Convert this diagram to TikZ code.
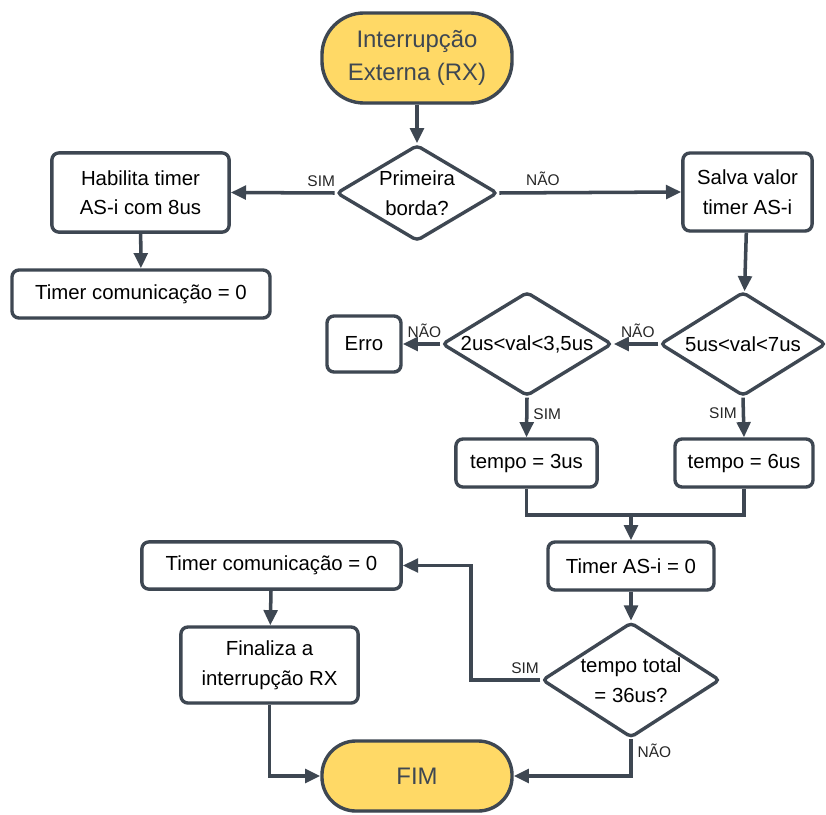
\documentclass[tikz,border=0pt]{standalone}
\usepackage{fontspec}
\setmainfont{Liberation Sans}
\usetikzlibrary{shapes.geometric,arrows.meta,shadows}
\definecolor{linha}{HTML}{3E4752}
\definecolor{amarelo}{HTML}{FFD966}
\tikzset{
  sombra/.style={drop shadow={shadow xshift=0.6pt,shadow yshift=-1.2pt,opacity=0.12,fill=black}},
  caixa/.style={draw=linha,line width=2.4pt,rounded corners=5pt,fill=white,sombra,
    align=center,inner sep=0pt,font=\fontsize{14.5}{21}\selectfont},
  decisao/.style={diamond,draw=linha,line width=2.4pt,rounded corners=3pt,fill=white,sombra,
    align=center,inner sep=0pt,font=\fontsize{14.5}{21}\selectfont},
  terminal/.style={draw=linha,line width=2.4pt,fill=amarelo,sombra,text=linha,
    align=center,inner sep=0pt,font=\fontsize{17}{23}\selectfont},
  rotulo/.style={font=\fontsize{11}{13}\selectfont,text=black!85,inner sep=3.5pt},
  seta/.style={draw=linha,line width=2.5pt,-{Triangle[length=0.38cm,width=0.34cm]}},
  liga/.style={draw=linha,line width=2.5pt}
}
\begin{document}
\begin{tikzpicture}[x=0.025cm,y=-0.025cm]
    \useasboundingbox (0,0) rectangle (826,814);

    \node[terminal,minimum width=4.75cm,minimum height=2.25cm,rounded corners=1.05cm] (inicio) at (417,58) {Interrupção\\Externa (RX)};
    \node[decisao,minimum width=4.03cm,minimum height=2.4cm,aspect=1.68] (borda) at (417,193) {Primeira\\borda?};
    \node[caixa,minimum width=4.43cm,minimum height=1.98cm] (habilita) at (140.5,192.5) {Habilita timer\\AS-i com 8us};
    \node[caixa,minimum width=6.45cm,minimum height=1.2cm] (comA) at (141,294) {Timer comunicação = 0};
    \node[caixa,minimum width=3.23cm,minimum height=1.95cm] (salva) at (747.5,192) {Salva valor\\timer AS-i};

    \node[decisao,minimum width=4.15cm,minimum height=2.6cm,aspect=1.6] (val5) at (743,344) {5us<val<7us};
    \node[decisao,minimum width=4.25cm,minimum height=2.6cm,aspect=1.63] (val2) at (527,344) {2us<val<3,5us};
    \node[caixa,minimum width=1.85cm,minimum height=1.4cm] (erro) at (364,344) {Erro};
    \node[caixa,minimum width=3.53cm,minimum height=1.2cm] (tempo3) at (526.5,463) {tempo = 3us};
    \node[caixa,minimum width=3.45cm,minimum height=1.2cm] (tempo6) at (744,463) {tempo = 6us};
    \coordinate (junta) at (631,515);

    \node[caixa,minimum width=4.15cm,minimum height=1.2cm] (zeraAS) at (631,566) {Timer AS-i = 0};
    \node[decisao,minimum width=4.45cm,minimum height=2.88cm,aspect=1.55] (total) at (631,680) {tempo total\\= 36us?};
    \node[caixa,minimum width=6.48cm,minimum height=1.18cm] (comB) at (271.5,565.5) {Timer comunicação = 0};
    \coordinate (volta) at (471,565.5);
    \node[caixa,minimum width=4.43cm,minimum height=1.9cm] (finaliza) at (269.5,665) {Finaliza a\\interrupção RX};
    \node[terminal,minimum width=4.75cm,minimum height=1.75cm,rounded corners=0.85cm] (fim) at (417,776) {FIM};

    \draw[seta] (inicio) -- (borda);
    \draw[seta] (borda.west) -- node[rotulo,pos=0.13,above]{SIM} (habilita.east);
    \draw[seta] (borda.east) -- node[rotulo,pos=0.24,above]{NÃO} (salva.west);
    \draw[seta] (habilita) -- (comA);
    \draw[seta] (salva) -- (val5);
    \draw[seta] (val5.west) -- node[rotulo,pos=0.46,above]{NÃO} (val2.east);
    \draw[seta] (val2.west) -- node[rotulo,pos=0.42,above]{NÃO} (erro.east);
    \draw[seta] (val2.south) -- node[rotulo,pos=0.42,right]{SIM} (tempo3.north);
    \draw[seta] (val5.south) -- node[rotulo,pos=0.38,left]{SIM} (tempo6.north);
    \draw[liga] (tempo3.south) |- (junta) -| (tempo6.south);
    \draw[seta] (junta) -- (zeraAS.north);
    \draw[seta] (zeraAS) -- (total);
    \draw[seta] (total.west) -| node[rotulo,pos=0.11,above]{SIM} (volta) -- (comB.east);
    \draw[seta] (comB) -- (finaliza);
    \draw[seta] (finaliza.south) |- (fim.west);
    \draw[seta] (total.south) |- node[rotulo,pos=0.15,right]{NÃO} (fim.east);

\end{tikzpicture}
\end{document}
